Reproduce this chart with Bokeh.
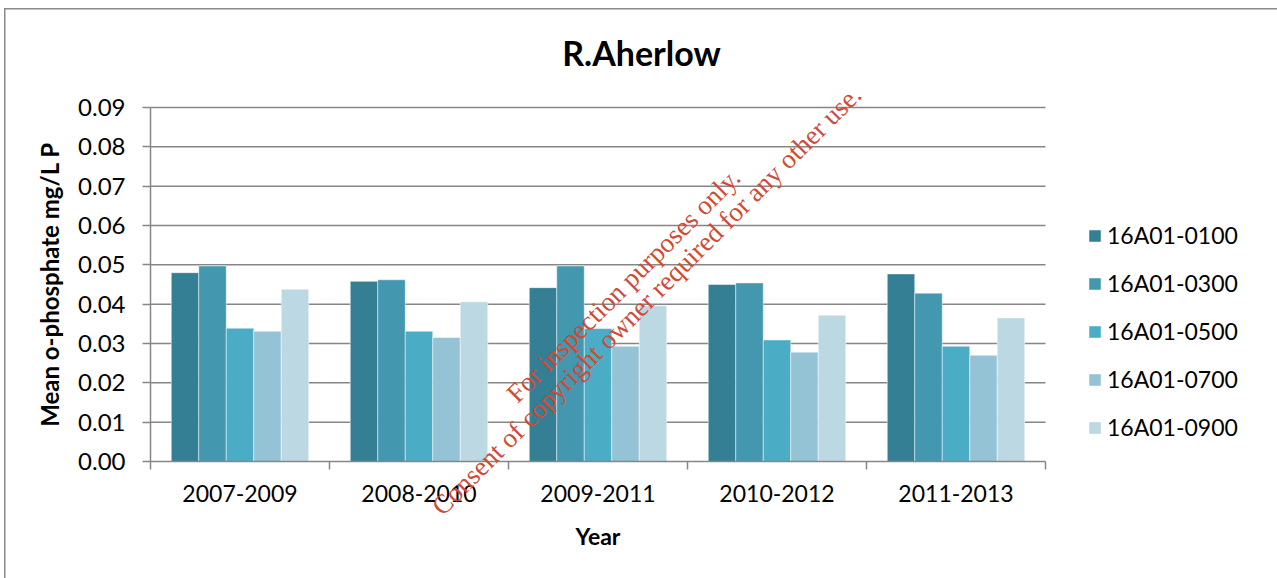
from bokeh.plotting import figure
from bokeh.models import (Range1d, FixedTicker, NumeralTickFormatter, Legend, LegendItem,
                          Label, ColumnDataSource)
from bokeh.embed import file_html
from bokeh.resources import INLINE

# ---- data ----
periods = ["2007-2009", "2008-2010", "2009-2011", "2010-2012", "2011-2013"]
series_names = ["16A01-0100", "16A01-0300", "16A01-0500", "16A01-0700", "16A01-0900"]
s0100 = [0.0480, 0.0458, 0.0442, 0.0450, 0.0477]
s0300 = [0.0497, 0.0462, 0.0497, 0.0454, 0.0428]
s0500 = [0.0339, 0.0331, 0.0338, 0.0309, 0.0293]
s0700 = [0.0331, 0.0315, 0.0293, 0.0278, 0.0270]
s0900 = [0.0438, 0.0406, 0.0396, 0.0372, 0.0365]
y_ticks = [0.0, 0.01, 0.02, 0.03, 0.04, 0.05, 0.06, 0.07, 0.08, 0.09]

series = [s0100, s0300, s0500, s0700, s0900]
colors = ["#357F95", "#4397AF", "#4BACC6", "#93C3D4", "#BCD8E3"]

FONT = "Lato"
GRID = "#868686"

# the frame covers the whole chart area; axes are pinned at x=0 / y=0
p = figure(frame_width=1273, frame_height=570,
           min_border=0, min_border_left=0, min_border_right=0,
           min_border_top=0, min_border_bottom=0,
           x_range=Range1d(-0.81564, 6.29609), y_range=Range1d(-0.029746, 0.115169),
           title=None, output_backend="svg", toolbar_location=None, tools="")
p.margin = (8, 0, 0, 4)
p.border_fill_color = None
p.background_fill_color = None
p.outline_line_color = None
p.styles = {"box-shadow": "inset 1.5px 1.5px 0 #8a8a8a"}
p.xgrid.visible = False
p.ygrid.visible = False

# y axis
ya = p.yaxis[0]
ya.fixed_location = 0
ya.bounds = (y_ticks[0], y_ticks[-1])
ya.ticker = FixedTicker(ticks=y_ticks)
ya.formatter = NumeralTickFormatter(format="0.00")
ya.axis_line_color = GRID
ya.axis_line_width = 1.5
ya.major_tick_line_color = GRID
ya.major_tick_line_width = 1.5
ya.major_tick_out = 8
ya.major_tick_in = 0
ya.minor_tick_line_color = None
ya.major_label_text_font = FONT
ya.major_label_text_font_size = "24px"
ya.major_label_text_color = "#000000"
ya.major_label_standoff = 17
ya.axis_label = "Mean o-phosphate mg/L P"
ya.axis_label_text_font = FONT
ya.axis_label_text_font_size = "24px"
ya.axis_label_text_font_style = "bold"
ya.axis_label_text_color = "#000000"
ya.axis_label_standoff = 11

# x axis
centers = [i + 0.5 for i in range(len(periods))]
bounds = [float(i) for i in range(len(periods) + 1)]
xa = p.xaxis[0]
xa.fixed_location = 0
xa.bounds = (0, len(periods))
xa.ticker = FixedTicker(ticks=centers, minor_ticks=bounds)
xa.major_label_overrides = {c: lab for c, lab in zip(centers, periods)}
xa.axis_line_color = GRID
xa.axis_line_width = 1.5
xa.major_tick_line_color = None
xa.major_tick_out = 8
xa.major_tick_in = 0
xa.minor_tick_line_color = GRID
xa.minor_tick_line_width = 1.5
xa.minor_tick_out = 8
xa.minor_tick_in = 0
xa.major_label_text_font = FONT
xa.major_label_text_font_size = "23px"
xa.major_label_text_color = "#000000"
xa.major_label_standoff = 16
xa.axis_label = "Year"
xa.axis_label_text_font = FONT
xa.axis_label_text_font_size = "23px"
xa.axis_label_text_font_style = "bold"
xa.axis_label_text_color = "#000000"
xa.axis_label_standoff = 16

# horizontal gridlines across the category span
grid_src = ColumnDataSource(dict(y=y_ticks[1:], x0=[0] * (len(y_ticks) - 1),
                                 x1=[len(periods)] * (len(y_ticks) - 1)))
p.segment(x0="x0", x1="x1", y0="y", y1="y", source=grid_src,
          line_color=GRID, line_width=1.5)

# bars
bw = 0.1536
items = []
n = len(series)
for j, (vals, col, name) in enumerate(zip(series, colors, series_names)):
    xs = [c + (j - (n - 1) / 2) * bw for c in centers]
    src = ColumnDataSource(dict(x=xs, top=vals))
    r = p.vbar(x="x", top="top", bottom=0, width=bw, source=src,
               fill_color=col, line_color="white", line_width=0.8, line_alpha=0.6)
    items.append(LegendItem(label=name, renderers=[r]))

legend = Legend(items=items, location=(1083, 137), orientation="vertical",
                background_fill_alpha=0, border_line_color=None,
                padding=0, margin=0, spacing=20,
                glyph_width=15, glyph_height=15, label_height=28,
                label_standoff=5,
                label_text_font=FONT, label_text_font_size="23px",
                label_text_color="#000000")
p.add_layout(legend, "center")

# title (centered over whole chart area)
p.add_layout(Label(x=2.743, y=0.10399, text="R.Aherlow", text_align="center",
                   text_baseline="middle", text_font=FONT, text_font_size="34px",
                   text_font_style="bold", text_color="#000000"))

# watermark
wm_color = "#D04A35"
p.add_layout(Label(x=2.642, y=0.04475, text="For inspection purposes only.",
                   angle=45, angle_units="deg", text_align="center", text_baseline="middle",
                   text_font="Liberation Serif", text_font_size="27px", text_color=wm_color))
p.add_layout(Label(x=2.771, y=0.04094,
                   text="Consent of copyright owner required for any other use.",
                   angle=45, angle_units="deg", text_align="center", text_baseline="middle",
                   text_font="Liberation Serif", text_font_size="27px", text_color=wm_color))

open("out.html", "w").write(file_html(p, INLINE))
